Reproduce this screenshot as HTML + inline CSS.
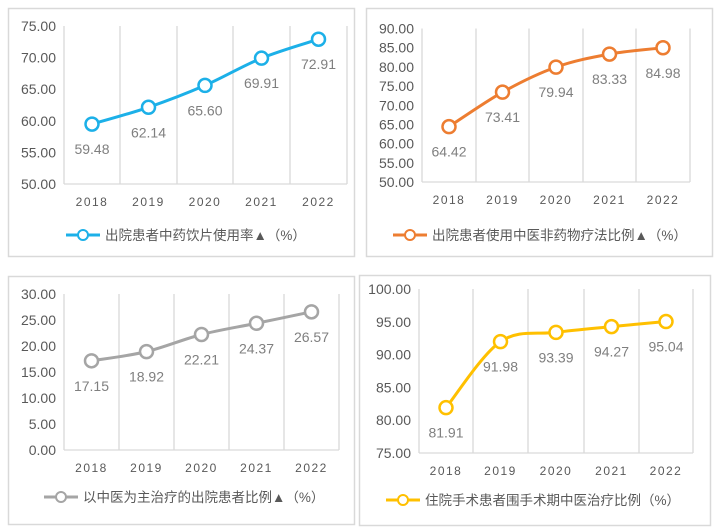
<!DOCTYPE html>
<html><head><meta charset="utf-8"><style>
body{margin:0;background:#fff;width:716px;height:532px;overflow:hidden}
svg{position:absolute;left:0;top:0}
text{font-family:"Liberation Sans","Noto Sans CJK SC",sans-serif}
</style></head><body>
<svg id="s" width="716" height="532" xmlns="http://www.w3.org/2000/svg"></svg>
<script>
const panels=[
 {box:[8,8,346,248],grid:[64,120,177,233,290,347],ymin:50,ymax:75,step:5,ytop:26,ybot:184,vals:[59.48,62.14,65.60,69.91,72.91],col:"#1cb0e8",leg:"出院患者中药饮片使用率▲（%）",legY:235,legX:66},
 {box:[366,8,346,248],grid:[422,476,529,583,636,690],ymin:50,ymax:90,step:5,ytop:28.5,ybot:182,vals:[64.42,73.41,79.94,83.33,84.98],col:"#ed7d31",leg:"出院患者使用中医非药物疗法比例▲（%）",legY:235,legX:393},
 {box:[8,276,346,248],grid:[64,119,174,229,284,339],ymin:0,ymax:30,step:5,ytop:294,ybot:450,vals:[17.15,18.92,22.21,24.37,26.57],col:"#a5a5a5",leg:"以中医为主治疗的出院患者比例▲（%）",legY:497,legX:44},
 {box:[359,275,351,250],grid:[419,473,528,584,639,693],ymin:75,ymax:100,step:5,ytop:289,ybot:453,vals:[81.91,91.98,93.39,94.27,95.04],col:"#ffc000",leg:"住院手术患者围手术期中医治疗比例（%）",legY:500,legX:386}
];
let h="";
for(const p of panels){
 const [bx,by,bw,bh]=p.box;
 h+=`<rect x="${bx+0.5}" y="${by+0.5}" width="${bw}" height="${bh}" fill="#fff" stroke="#d9d9d9" stroke-width="1.5"/>`;
 const Y=v=>p.ybot-(v-p.ymin)/(p.ymax-p.ymin)*(p.ybot-p.ytop);
 for(const g of p.grid) h+=`<line x1="${g}" y1="${p.ytop}" x2="${g}" y2="${p.ybot}" stroke="#d9d9d9" stroke-width="1.3"/>`;
 h+=`<line x1="${p.grid[0]}" y1="${p.ybot}" x2="${p.grid[5]}" y2="${p.ybot}" stroke="#d9d9d9" stroke-width="1.3"/>`;
 for(let v=p.ymin;v<=p.ymax;v+=p.step) h+=`<text x="${p.grid[0]-8}" y="${Y(v)+5}" text-anchor="end" font-size="14" fill="#595959">${v.toFixed(2)}</text>`;
 const xs=[0,1,2,3,4].map(i=>(p.grid[i]+p.grid[i+1])/2);
 const ys=p.vals.map(Y);
 ['2018','2019','2020','2021','2022'].forEach((t,i)=>h+=`<text x="${xs[i]}" y="${p.ybot+22}" text-anchor="middle" font-size="12" letter-spacing="1.5" fill="#595959">${t}</text>`);
 let d=`M${xs[0]},${ys[0]}`;
 for(let i=0;i<4;i++){
  const x0=xs[Math.max(i-1,0)],y0=ys[Math.max(i-1,0)],x3=xs[Math.min(i+2,4)],y3=ys[Math.min(i+2,4)];
  const c1x=xs[i]+(xs[i+1]-x0)/6,c1y=ys[i]+(ys[i+1]-y0)/6,c2x=xs[i+1]-(x3-xs[i])/6,c2y=ys[i+1]-(y3-ys[i])/6;
  d+=` C${c1x},${c1y} ${c2x},${c2y} ${xs[i+1]},${ys[i+1]}`;
 }
 h+=`<path d="${d}" fill="none" stroke="${p.col}" stroke-width="3"/>`;
 xs.forEach((x,i)=>{h+=`<circle cx="${x}" cy="${ys[i]}" r="6.5" fill="#fff" stroke="${p.col}" stroke-width="2.5"/>`;
  h+=`<text x="${x}" y="${ys[i]+30}" text-anchor="middle" font-size="14" fill="#7f7f7f">${p.vals[i].toFixed(2)}</text>`;});
 h+=`<line x1="${p.legX}" y1="${p.legY}" x2="${p.legX+34}" y2="${p.legY}" stroke="${p.col}" stroke-width="3"/><circle cx="${p.legX+17}" cy="${p.legY}" r="5" fill="#fff" stroke="${p.col}" stroke-width="2"/>`;
 h+=`<text x="${p.legX+39}" y="${p.legY+5}" font-size="13.5" fill="#595959">${p.leg}</text>`;
}
document.getElementById('s').innerHTML=h;
</script>
</body></html>
